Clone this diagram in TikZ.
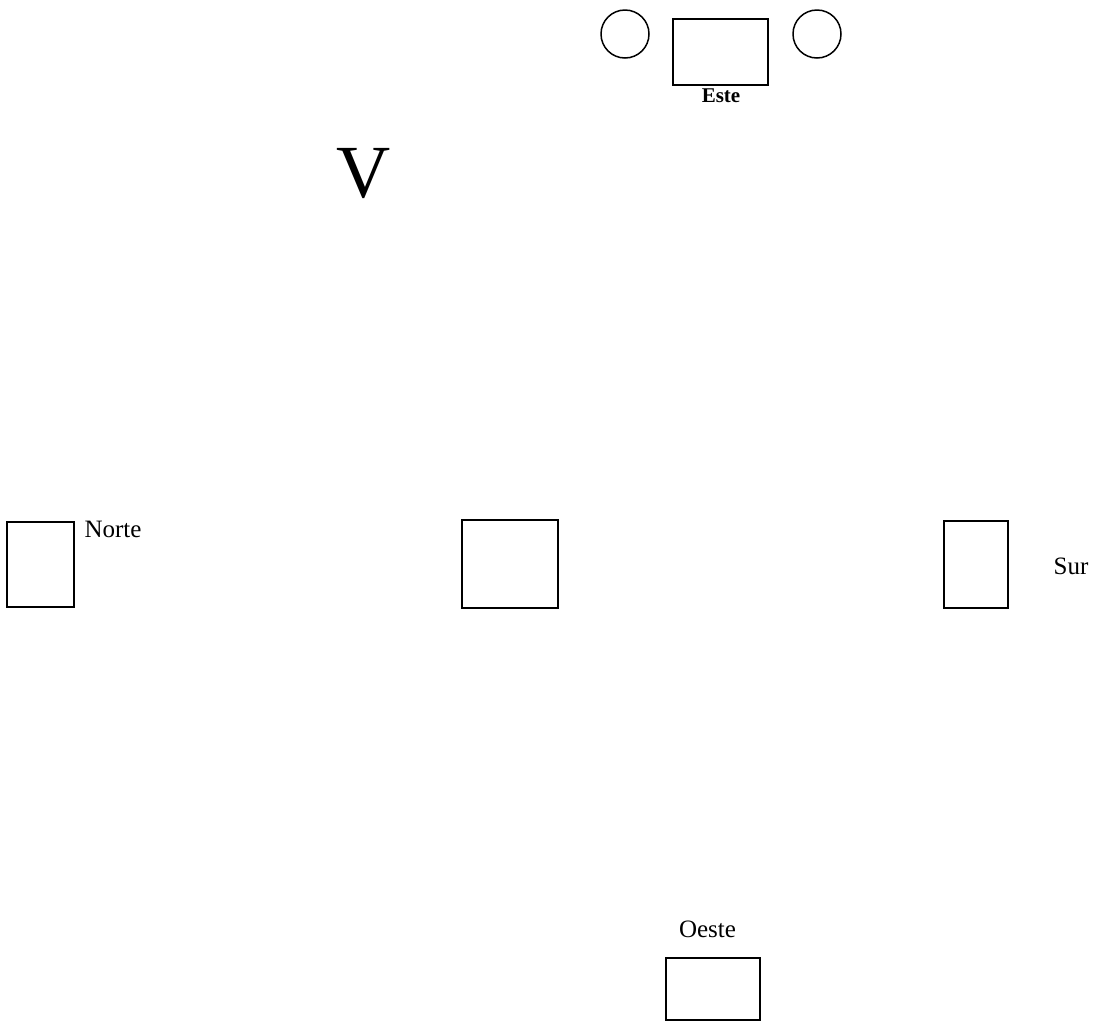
\documentclass[tikz,border=0pt]{standalone}
\usepackage{fontspec}
\setmainfont{Liberation Serif}
\begin{document}
\begin{tikzpicture}[x=1pt,y=-1pt,
  box/.style={draw,line width=2pt,inner sep=0pt,minimum width=#1},
  seat/.style={draw,circle,line width=1.5pt,inner sep=0pt,minimum size=48pt},
  lbl/.style={font=\fontsize{25}{30}\selectfont,anchor=base,inner sep=0pt}]
\useasboundingbox (0,0) rectangle (1093,1021);
% top group
\node[seat] (c1) at (625,34) {};
\node[box=95pt,minimum height=66pt] (este) at (720.5,52) {};
\node[seat] (c2) at (817,34) {};
\node[font=\fontsize{21}{25}\selectfont\bfseries,anchor=base,inner sep=0pt] (estel) at (721,102) {Este};
% V
\node[font=\fontsize{75}{80}\selectfont,anchor=base,inner sep=0pt] (v) at (364,197) {V};
% middle row
\node[box=67pt,minimum height=85pt] (norte) at (40.5,564.5) {};
\node[lbl] (nortel) at (113,537) {Norte};
\node[box=96pt,minimum height=88pt] (centro) at (510,564) {};
\node[box=64pt,minimum height=87pt] (sur) at (976,564.5) {};
\node[lbl] (surl) at (1071,574) {Sur};
% bottom
\node[lbl] (oestel) at (707.5,937) {Oeste};
\node[box=94pt,minimum height=62pt] (oeste) at (713,989) {};
\end{tikzpicture}
\end{document}
